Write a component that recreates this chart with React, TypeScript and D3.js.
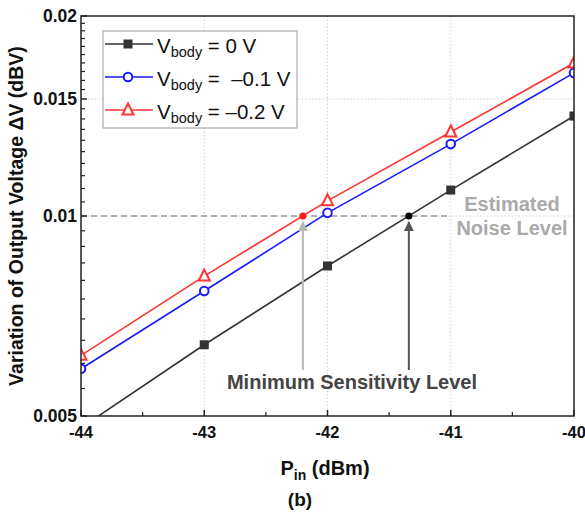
import React from "react";
import * as d3 from "d3";

const pin = [-44, -43, -42, -41, -40];
const v0 = [0.0048, 0.0064, 0.00841, 0.01094, 0.01414];
const vm01 = [0.00589, 0.00771, 0.01011, 0.01283, 0.01642];
const vm02 = [0.00617, 0.00812, 0.01054, 0.01338, 0.01699];
const xTicks = [-44, -43, -42, -41, -40];
const xMinor = [-43.5, -42.5, -41.5, -40.5];
const yTicks = [0.005, 0.01, 0.015, 0.02];
const yTickLabels = ["0.005", "0.01", "0.015", "0.02"];
const noiseLevel = 0.01;
const minSens = [
  { x: -42.2, color: "#ff1a1a", arrow: "#b8b8b8" },
  { x: -41.34, color: "#000000", arrow: "#555555" },
];

const W = 585, H = 513;
const L = 81, R = 574, T = 16, B = 416;

export default function App() {
  const x = d3.scaleLinear().domain([-44, -40]).range([L, R]);
  const y = d3.scaleLog().domain([0.005, 0.02]).range([B, T]);
  const yMinor = d3.range(0.0055, 0.02, 0.0005).filter(
    (v) => Math.abs((v / 0.005) - Math.round(v / 0.005)) > 1e-6
  );
  const line = d3
    .line<number>()
    .x((_, i) => x(pin[i]))
    .y((d) => y(d));
  const font = "'Liberation Sans', Arial, sans-serif";
  const series = [
    { data: v0, color: "#333333", marker: "square" },
    { data: vm01, color: "#1a1aff", marker: "circle" },
    { data: vm02, color: "#ff3333", marker: "triangle" },
  ];
  const marker = (type: string, cx: number, cy: number, color: string, key: string) => {
    if (type === "square")
      return <rect key={key} x={cx - 4.5} y={cy - 4.5} width={9} height={9} fill={color} />;
    if (type === "circle")
      return <circle key={key} cx={cx} cy={cy} r={4.3} fill="white" stroke={color} strokeWidth={2} />;
    const s = 5.5;
    return (
      <path
        key={key}
        d={`M${cx},${cy - s - 1}L${cx + s},${cy + s - 1}L${cx - s},${cy + s - 1}Z`}
        fill="white"
        stroke={color}
        strokeWidth={2}
      />
    );
  };
  const legend = [
    { label: "= 0 V", color: "#333333", marker: "square" },
    { label: "=  \u20130.1 V", color: "#1a1aff", marker: "circle" },
    { label: "= \u20130.2 V", color: "#ff3333", marker: "triangle" },
  ];
  return (
    <svg width={W} height={H} style={{ position: "absolute", left: 0, top: 0, background: "white" }}>
      <defs>
        <clipPath id="plot">
          <rect x={L} y={T} width={R - L} height={B - T} />
        </clipPath>
        {minSens.map((m, i) => (
          <marker key={i} id={`arr${i}`} viewBox="0 0 10 10" refX="9" refY="5" markerWidth="5" markerHeight="6" orient="auto">
            <path d="M0,0L10,5L0,10Z" fill={m.arrow} />
          </marker>
        ))}
      </defs>
      {/* grid */}
      {xTicks.slice(1, -1).map((t) => (
        <line key={t} x1={x(t)} x2={x(t)} y1={T} y2={B} stroke="#d0d0d0" strokeDasharray="1.5,2" strokeWidth={1} />
      ))}
      {yTicks.slice(1, -1).map((t) => (
        <line key={t} x1={L} x2={R} y1={y(t)} y2={y(t)} stroke="#d0d0d0" strokeDasharray="1.5,2" strokeWidth={1} />
      ))}
      {/* noise level */}
      <line x1={L} x2={450} y1={y(noiseLevel)} y2={y(noiseLevel)} stroke="#999" strokeWidth={1.5} strokeDasharray="6,4" />
      {/* series */}
      <g clipPath="url(#plot)">
        {series.map((s, i) => (
          <path key={i} d={line(s.data) || ""} fill="none" stroke={s.color} strokeWidth={1.6} />
        ))}
        {series.map((s, i) =>
          s.data.map((d, j) => marker(s.marker, x(pin[j]), y(d), s.color, `m${i}-${j}`))
        )}
      </g>
      {/* min sensitivity */}
      {minSens.map((m, i) => (
        <g key={i}>
          <line x1={x(m.x)} x2={x(m.x)} y1={370} y2={y(noiseLevel) + 6} stroke={m.arrow} strokeWidth={2} markerEnd={`url(#arr${i})`} />
          <circle cx={x(m.x)} cy={y(noiseLevel)} r={3.5} fill={m.color} />
        </g>
      ))}
      <text x={352} y={389} textAnchor="middle" fontFamily={font} fontWeight="bold" fontSize={20} fill="#444">
        Minimum Sensitivity Level
      </text>
      <text x={512} y={211} textAnchor="middle" fontFamily={font} fontWeight="bold" fontSize={20} fill="#aaa">
        Estimated
      </text>
      <text x={512} y={235} textAnchor="middle" fontFamily={font} fontWeight="bold" fontSize={20} fill="#aaa">
        Noise Level
      </text>
      {/* frame */}
      <rect x={L} y={T} width={R - L} height={B - T} fill="none" stroke="#222" strokeWidth={1.5} />
      {/* ticks */}
      {xTicks.map((t) => (
        <line key={t} x1={x(t)} x2={x(t)} y1={B} y2={B - 6} stroke="#222" strokeWidth={1.5} />
      ))}
      {xMinor.map((t) => (
        <line key={t} x1={x(t)} x2={x(t)} y1={B} y2={B - 4} stroke="#222" strokeWidth={1.2} />
      ))}
      {yTicks.map((t) => (
        <line key={t} x1={L} x2={L + 6} y1={y(t)} y2={y(t)} stroke="#222" strokeWidth={1.5} />
      ))}
      {yMinor.map((t) => (
        <line key={t} x1={L} x2={L + 4} y1={y(t)} y2={y(t)} stroke="#222" strokeWidth={1.2} />
      ))}
      {xTicks.map((t) => (
        <text key={t} x={x(t)} y={438} textAnchor="middle" fontFamily={font} fontWeight="bold" fontSize={16.5} fill="#111">
          {t}
        </text>
      ))}
      {yTicks.map((t, i) => (
        <text key={t} x={77} y={y(t) + 6} textAnchor="end" fontFamily={font} fontWeight="bold" fontSize={17.5} fill="#111">
          {yTickLabels[i]}
        </text>
      ))}
      {/* axis titles */}
      <text x={325} y={475} textAnchor="middle" fontFamily={font} fontWeight="bold" fontSize={20} fill="#111">
        P<tspan fontSize={14} dy={5}>in</tspan>
        <tspan dy={-5}> (dBm)</tspan>
      </text>
      <text x={300} y={506} textAnchor="middle" fontFamily={font} fontWeight="bold" fontSize={19} fill="#111">
        (b)
      </text>
      <text
        transform={`translate(23,${(T + B) / 2 + 0}) rotate(-90)`}
        textAnchor="middle"
        fontFamily={font}
        fontWeight="bold"
        fontSize={19.5}
        fill="#111"
      >
        Variation of Output Voltage ΔV (dBV)
      </text>
      {/* legend */}
      <rect x={103} y={31} width={194} height={97} fill="white" stroke="#999" strokeWidth={1} />
      {legend.map((l, i) => {
        const ly = 44 + i * 33;
        return (
          <g key={i}>
            <line x1={105} x2={153} y1={ly} y2={ly} stroke={l.color} strokeWidth={1.6} />
            {marker(l.marker, 128, ly, l.color, `lg${i}`)}
            <text x={157} y={ly + 8.5} fontFamily={font} fontSize={20.5} fill="#111" style={{ whiteSpace: "pre" }}>
              V<tspan fontSize={14.5} dy={4.5}>body</tspan>
              <tspan dy={-4.5}>{" " + l.label}</tspan>
            </text>
          </g>
        );
      })}
    </svg>
  );
}
